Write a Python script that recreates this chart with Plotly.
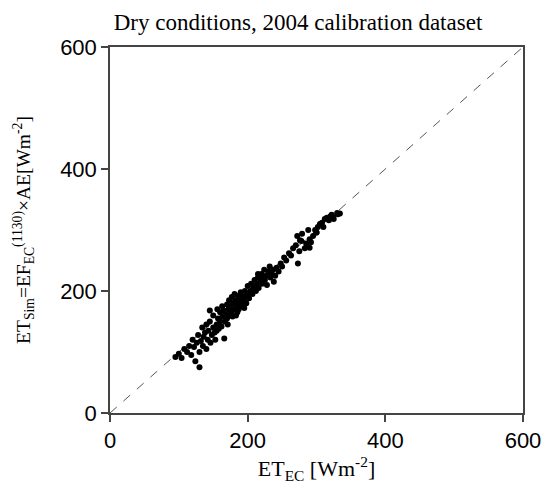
import plotly.graph_objects as go

et_ec = [95,100,104,108,112,115,118,120,122,124,126,128,130,130,132,134,135,136,138,140,
         140,142,143,145,146,148,150,150,152,153,155,156,157,158,160,160,162,163,164,165,
         166,167,168,170,170,171,172,173,174,175,176,177,178,179,180,181,182,183,184,185,
         186,187,188,189,190,191,192,193,195,196,197,198,200,200,202,204,205,207,208,210,
         212,213,215,216,218,220,221,222,224,225,227,228,230,232,233,235,237,238,240,242,
         245,248,250,253,256,260,263,266,270,272,275,273,278,276,283,285,288,290,292,295,
         298,300,302,305,308,310,312,315,318,320,322,325,330,334,279,290,300,324,331,145,
         155,185,195,215]
et_sim = [92,97,90,105,100,110,95,120,108,85,115,128,75,100,118,140,110,125,132,105,
          145,120,135,150,115,128,140,160,132,120,145,170,155,138,150,165,142,175,158,168,
          122,150,162,178,155,145,170,185,160,175,165,190,158,180,170,195,185,160,175,182,
          192,170,186,178,198,188,175,190,183,200,192,180,195,208,188,200,212,195,205,218,
          200,210,222,205,215,228,212,220,235,218,225,210,232,240,222,228,235,215,225,238,
          232,245,240,255,250,262,258,270,275,290,265,245,282,283,270,278,300,285,280,290,
          300,296,305,310,312,305,318,320,316,322,325,318,328,327,294,271,296,321,326,168,
          135,165,172,228]

x_ticks = [0, 200, 400, 600]
y_ticks = [0, 200, 400, 600]
one_to_one = [0, 600]

SERIF = "Liberation Serif, Times New Roman, serif"
SANS = "Liberation Sans, Arial, sans-serif"

W, H = 542, 484

fig = go.Figure()
fig.add_trace(go.Scatter(x=one_to_one, y=one_to_one, mode="lines",
                         line=dict(color="#555555", width=1, dash="dash"),
                         hoverinfo="skip", showlegend=False))
fig.add_trace(go.Scatter(x=et_ec, y=et_sim, mode="markers",
                         marker=dict(color="black", size=6, symbol="circle"),
                         showlegend=False))

axis_common = dict(showgrid=False, zeroline=False, showline=True, mirror=True,
                   linecolor="#444444", linewidth=1.5, ticks="outside", ticklen=7,
                   tickwidth=1.5, tickcolor="#444444", automargin=False,
                   tickfont=dict(family=SANS, size=22, color="black"))

fig.update_layout(
    width=W, height=H,
    margin=dict(l=110, r=19, t=47, b=71),
    plot_bgcolor="white", paper_bgcolor="white",
    title=dict(text="Dry conditions, 2004 calibration dataset",
               font=dict(family=SERIF, size=23, color="black"),
               x=298 / W, xanchor="center", y=1 - 22 / H, yanchor="middle"),
    xaxis=dict(range=[0, 600], tickvals=x_ticks, **axis_common,
               title=dict(text="ET<sub>EC</sub> [Wm<sup>-2</sup>]", standoff=4,
                          font=dict(family=SERIF, size=22, color="black"))),
    yaxis=dict(range=[0, 600], tickvals=y_ticks, **axis_common,
               title=dict(text="ET<sub>Sim</sub>=EF<sub>EC</sub><sup>(1130)</sup>×AE[Wm<sup>-2</sup>]",
                          standoff=24,
                          font=dict(family=SERIF, size=19.5, color="black"))),
)

fig.write_html("out.html", config={"displayModeBar": False},
               post_script="document.body.style.margin='0';document.body.style.overflow='hidden';")
